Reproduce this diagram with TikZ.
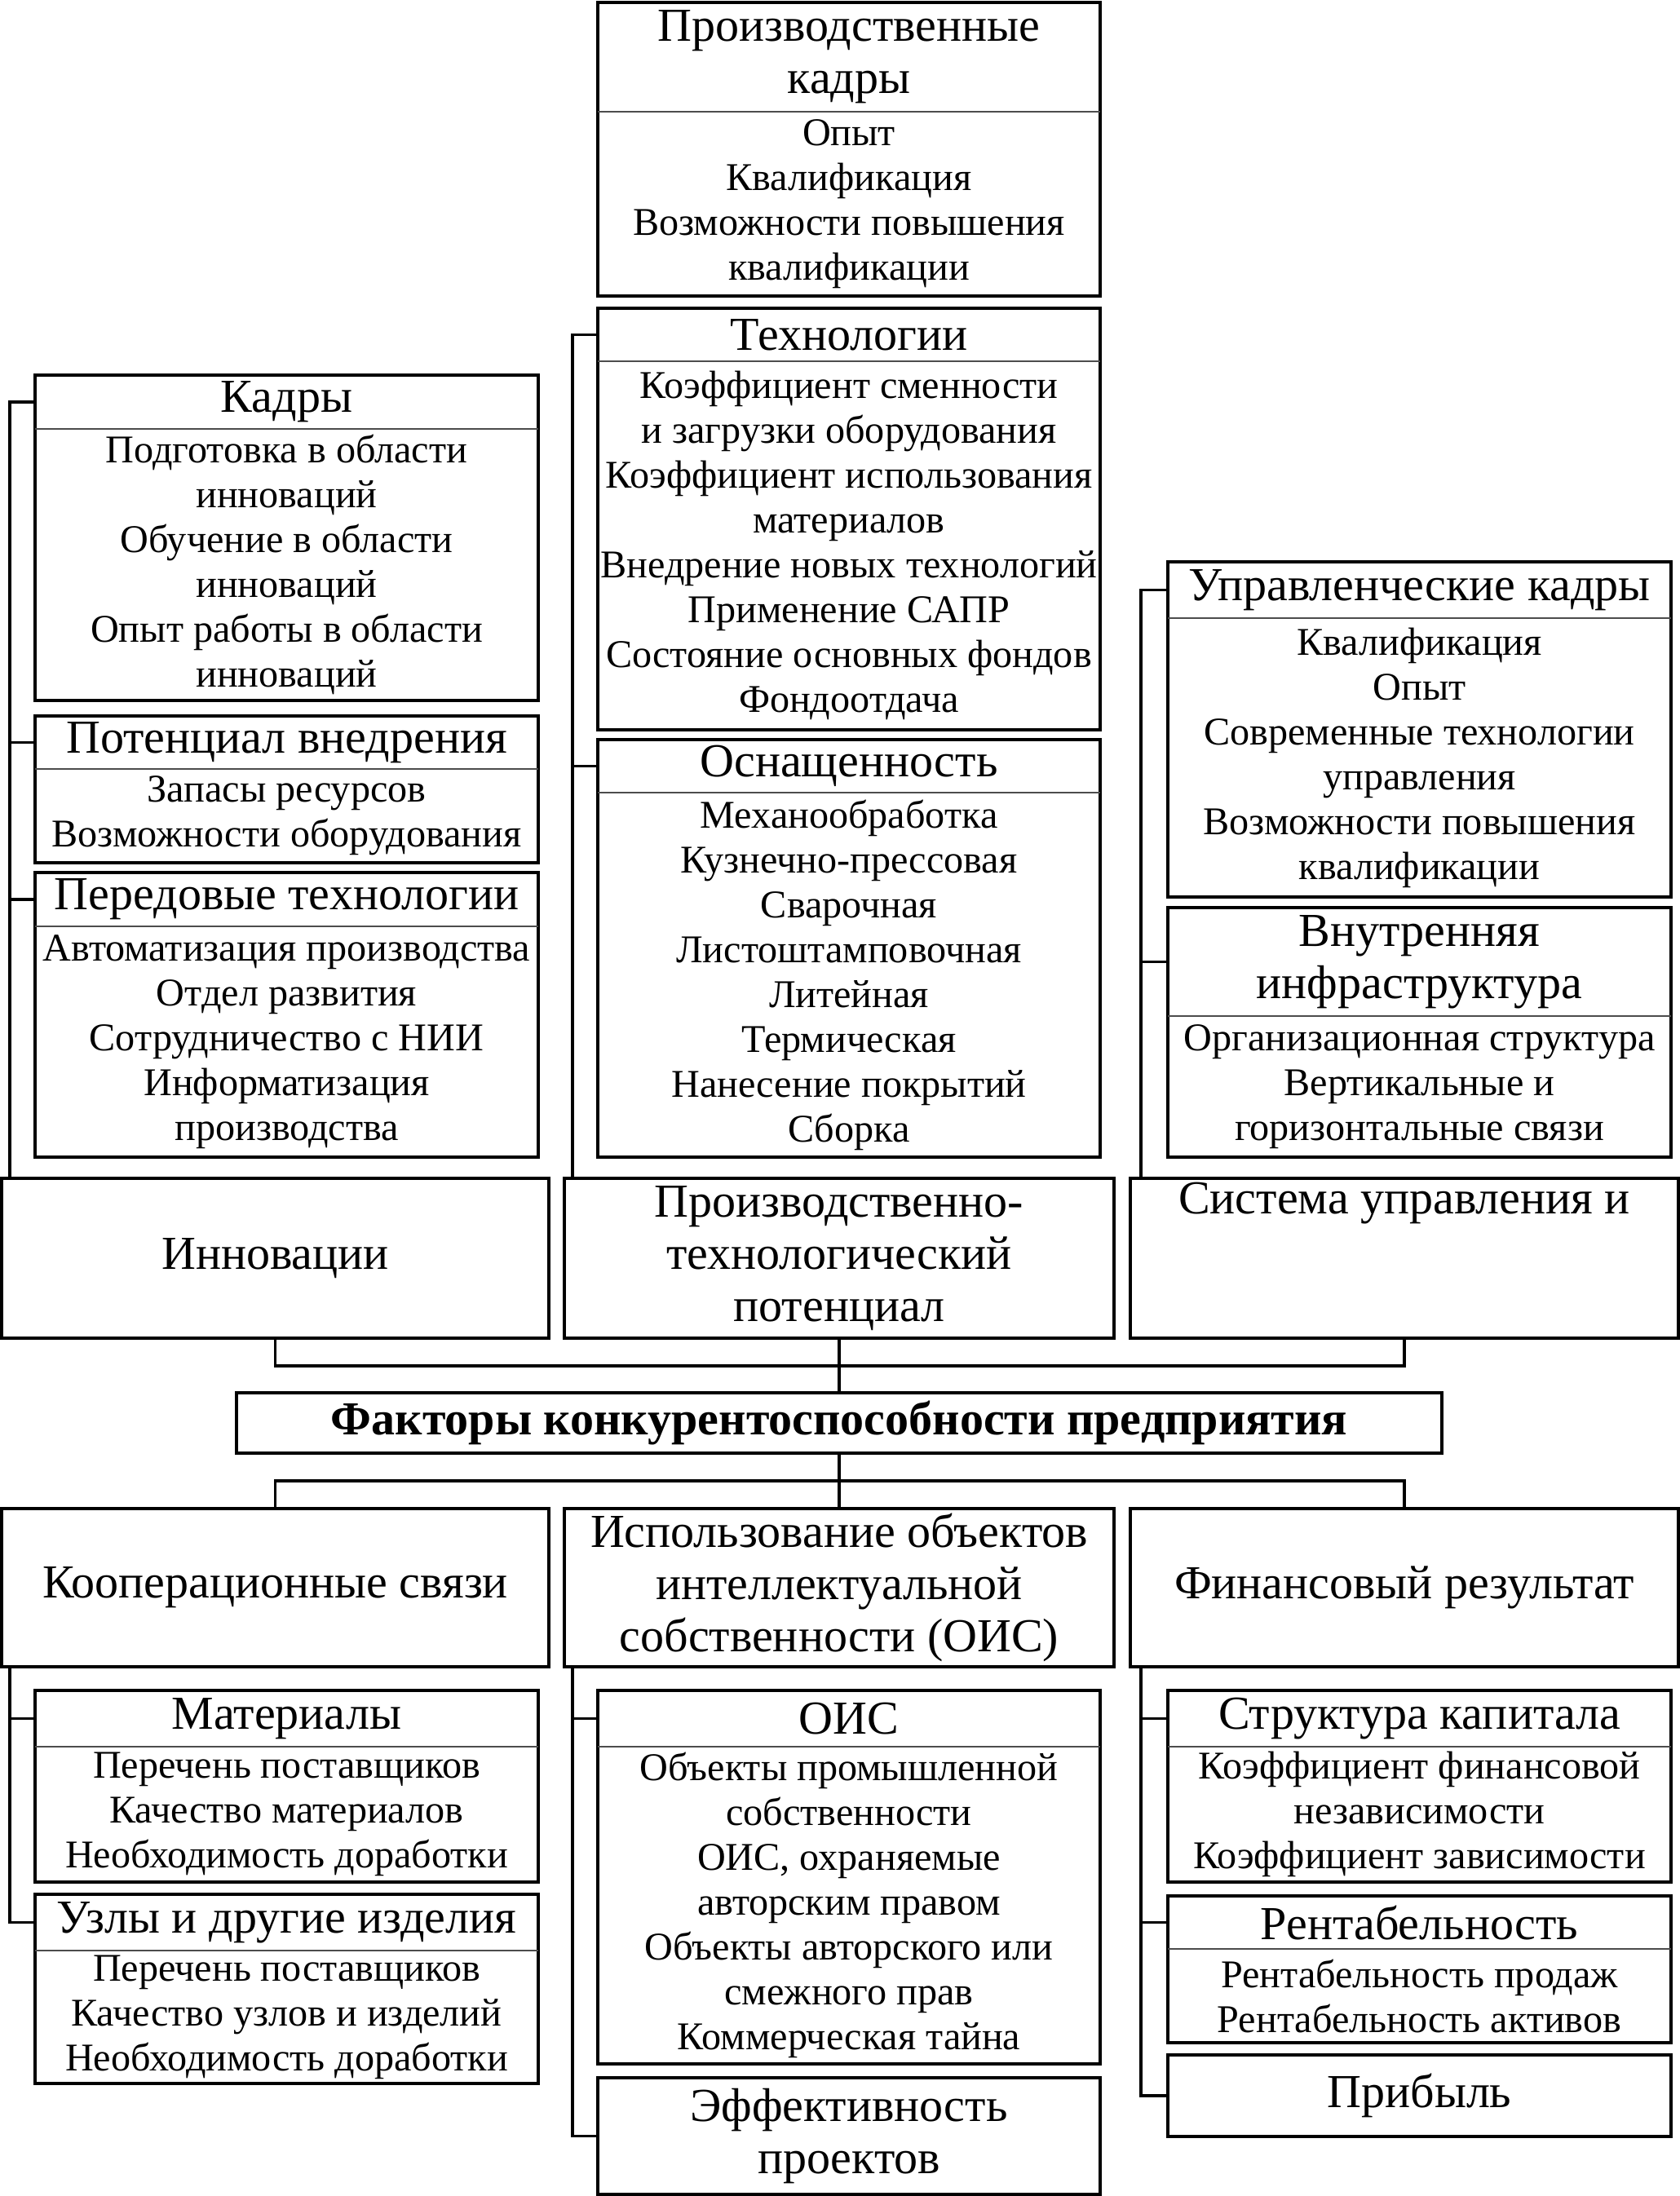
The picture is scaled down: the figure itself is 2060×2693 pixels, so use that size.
\documentclass[tikz,border=0pt]{standalone}
\usepackage{fontspec}
\setmainfont{Liberation Serif}
\usetikzlibrary{fit}
\tikzset{
  x=0.01cm, y=-0.01cm,
  boxst/.style={draw=black, line width=1.1pt, inner sep=0pt},
  sepst/.style={draw=black!70, line width=0.35pt},
  conn/.style={draw=black, line width=1.1pt},
  ttl/.style={font=\fontsize{16.5}{18.2}\selectfont, align=center, inner sep=0pt},
  itm/.style={font=\fontsize{13.7}{15.65}\selectfont, align=center, inner sep=0pt},
  bigt/.style={font=\fontsize{16.5}{18.2}\selectfont, align=center, inner sep=0pt},
}
\newcommand\ibox[8]{%
  \node[boxst, fit={(#2,#3)(#4,#5)}] (#1) {};
  \coordinate (#1-c) at ({(#2+#4)/2},{(#3+#6)/2});
  \draw[sepst] (#2,#6) -- (#4,#6);
  \node[ttl] (#1-t) at (#1-c) {#7};
  \node[itm] (#1-i) at ({(#2+#4)/2},{(#6+#5)/2}) {#8};
}
\newcommand\plainbox[6]{%
  \node[boxst, fit={(#2,#3)(#4,#5)}] (#1) {};
  \node[bigt] (#1-t) at ({(#2+#4)/2},{(#3+#5)/2}) {#6};
}
\begin{document}
\begin{tikzpicture}
\useasboundingbox (0,0) rectangle (2060,2693);
% upper part
\ibox{pk}{733}{3}{1349}{363}{137}{Производственные\\кадры}{Опыт\\Квалификация\\Возможности повышения\\квалификации}
\ibox{tech}{733}{378}{1349}{895}{443}{Технологии}{Коэффициент сменности\\и загрузки оборудования\\Коэффициент использования\\материалов\\Внедрение новых технологий\\Применение САПР\\Состояние основных фондов\\Фондоотдача}
\ibox{osn}{733}{907}{1349}{1419}{972}{Оснащенность}{Механообработка\\Кузнечно-прессовая\\Сварочная\\Листоштамповочная\\Литейная\\Термическая\\Нанесение покрытий\\Сборка}
\ibox{kadry}{43}{460}{660}{859}{526}{Кадры}{Подготовка в области\\инноваций\\Обучение в области\\инноваций\\Опыт работы в области\\инноваций}
\ibox{pot}{43}{878}{660}{1058}{943}{Потенциал внедрения}{Запасы ресурсов\\Возможности оборудования}
\ibox{per}{43}{1070}{660}{1419}{1136}{Передовые технологии}{Автоматизация производства\\Отдел развития\\Сотрудничество с НИИ\\Информатизация\\производства}
\ibox{upr}{1432}{689}{2049}{1100}{758}{Управленческие кадры}{Квалификация\\Опыт\\Современные технологии\\управления\\Возможности повышения\\квалификации}
\ibox{vnut}{1432}{1113}{2049}{1419}{1246}{Внутренняя\\инфраструктура}{Организационная структура\\Вертикальные и\\горизонтальные связи}
\plainbox{innov}{2}{1445}{673}{1641}{Инновации}
\plainbox{ptp}{692}{1445}{1366}{1641}{Производственно-\\технологический\\потенциал}
\node[boxst, fit={(1386,1445)(2058,1641)}] (sys) {};
\node[bigt] (sys-t) at (1722,1476) {Система управления и};
% factors
\node[boxst, fit={(290,1708)(1768,1782)}] (factors) {};
\node[bigt, font=\fontsize{16.5}{18.2}\selectfont\bfseries] (factors-t) at (1029,1745) {Факторы конкурентоспособности предприятия};
% lower part
\plainbox{koop}{2}{1850}{673}{2044}{Кооперационные связи}
\plainbox{iois}{692}{1850}{1366}{2044}{Использование объектов\\интеллектуальной\\собственности (ОИС)}
\plainbox{fin}{1386}{1850}{2058}{2044}{Финансовый результат}
\ibox{mat}{43}{2073}{660}{2308}{2142}{Материалы}{Перечень поставщиков\\Качество материалов\\Необходимость доработки}
\ibox{uzly}{43}{2323}{660}{2555}{2392}{Узлы и другие изделия}{Перечень поставщиков\\Качество узлов и изделий\\Необходимость доработки}
\ibox{ois}{733}{2073}{1349}{2531}{2142}{ОИС}{Объекты промышленной\\собственности\\ОИС, охраняемые\\авторским правом\\Объекты авторского или\\смежного прав\\Коммерческая тайна}
\plainbox{eff}{733}{2548}{1349}{2691}{Эффективность\\проектов}
\ibox{str}{1432}{2073}{2049}{2308}{2142}{Структура капитала}{Коэффициент финансовой\\независимости\\Коэффициент зависимости}
\ibox{rent}{1432}{2325}{2049}{2505}{2390}{Рентабельность}{Рентабельность продаж\\Рентабельность активов}
\plainbox{prib}{1432}{2520}{2049}{2620}{Прибыль}
% buses
\coordinate (bL) at (12,0);
\coordinate (bM) at (702,0);
\coordinate (bR) at (1399,0);
\coordinate (h1) at (0,1675);
\coordinate (h2) at (0,1816);
\draw[conn] (kadry-c -| kadry.west) -| (innov.north -| bL);
\draw[conn] (pot-c -| pot.west) -- (pot-c -| bL);
\draw[conn] (per-c -| per.west) -- (per-c -| bL);
\draw[conn] (tech-c -| tech.west) -| (ptp.north -| bM);
\draw[conn] (osn-c -| osn.west) -- (osn-c -| bM);
\draw[conn] (upr-c -| upr.west) -| (sys.north -| bR);
\draw[conn] (vnut-c -| vnut.west) -- (vnut-c -| bR);
\draw[conn] (innov.south) |- (h1 -| sys.south) -- (sys.south);
\draw[conn] (ptp.south) -- (factors.north);
\draw[conn] (factors.south) -- (h2 -| factors.south);
\draw[conn] (koop.north) |- (h2 -| fin.north) -- (fin.north);
\draw[conn] (h2 -| iois.north) -- (iois.north);
\draw[conn] (koop.south -| bL) |- (uzly-c -| uzly.west);
\draw[conn] (mat-c -| bL) -- (mat-c -| mat.west);
\draw[conn] (iois.south -| bM) |- (eff.west);
\draw[conn] (ois-c -| bM) -- (ois-c -| ois.west);
\draw[conn] (fin.south -| bR) |- (prib.west);
\draw[conn] (str-c -| bR) -- (str-c -| str.west);
\draw[conn] (rent-c -| bR) -- (rent-c -| rent.west);
\end{tikzpicture}
\end{document}
